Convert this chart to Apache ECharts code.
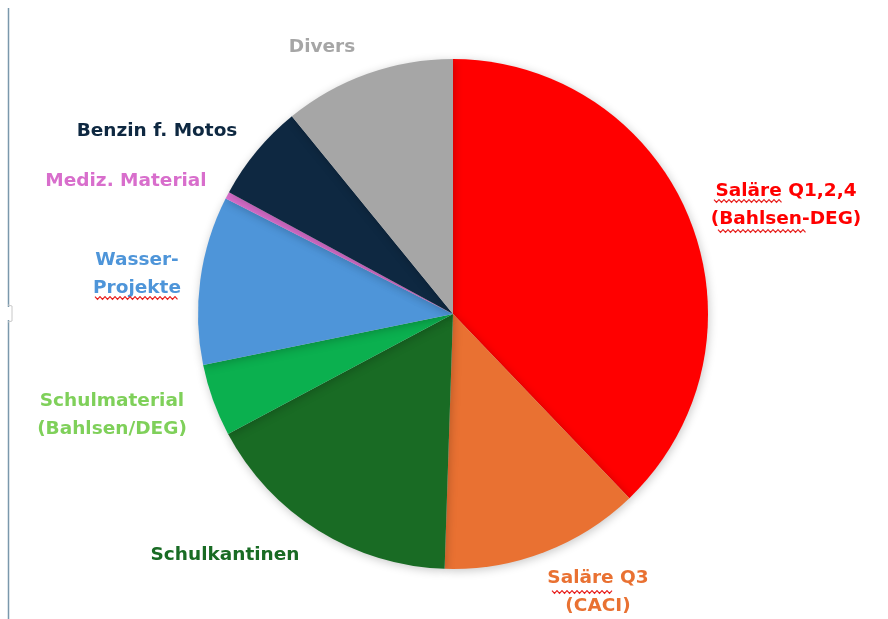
<!DOCTYPE html>
<html>
<head>
<meta charset="utf-8">
<script src="https://cdn.jsdelivr.net/npm/echarts@6/dist/echarts.min.js"></script>
<style>
  html, body { margin: 0; padding: 0; background: #fff; }
  #pieChart { width: 888px; height: 619px; }
</style>
</head>
<body>
<div id="pieChart"></div>
<script>
  // Anteile in Prozent, aus der Grafik geschaetzt
  var categories = [
    'Saläre Q1,2,4\n(Bahlsen-DEG)',
    'Saläre Q3\n(CACI)',
    'Schulkantinen',
    'Schulmaterial\n(Bahlsen/DEG)',
    'Wasser-\nProjekte',
    'Mediz. Material',
    'Benzin f. Motos',
    'Divers'
  ];
  var values = [37.9, 12.7, 16.7, 4.6, 10.7, 0.45, 6.2, 10.9];

  var sliceColors = ['#FF0000', '#E97132', '#196B24', '#0BB04F', '#4E95D9', '#D86ECC', '#0E2841', '#A6A6A6'];
  var labelColors = ['#FF0000', '#E97132', '#196B24', '#7FD05A', '#4E95D9', '#D86ECC', '#0E2841', '#A6A6A6'];
  var labelPos = [
    [786, 205], [598, 592], [225, 555], [112, 415],
    [137, 274], [126, 181], [157, 131], [322, 47]
  ];

  // rote Rechtschreib-Wellenlinien wie im Original
  function squiggle(x1, x2, y) {
    var pts = [];
    var up = true;
    for (var x = x1; x <= x2; x += 2.5) {
      pts.push([x, up ? y - 1.4 : y + 1.4]);
      up = !up;
    }
    return { type: 'polyline', shape: { points: pts }, style: { stroke: '#E8201E', fill: null, lineWidth: 1.2 }, z: 10 };
  }

  var chart = echarts.init(document.getElementById('pieChart'));

  var data = [];
  for (var i = 0; i < categories.length; i++) {
    data.push({
      name: categories[i],
      value: values[i],
      itemStyle: { color: sliceColors[i] },
      label: { color: labelColors[i] }
    });
  }

  var option = {
    animation: false,
    graphic: [
      { type: 'line', shape: { x1: 8.5, y1: 8, x2: 8.5, y2: 307 }, style: { stroke: '#7A98AC', lineWidth: 1.5 } },
      { type: 'line', shape: { x1: 8.5, y1: 320, x2: 8.5, y2: 619 }, style: { stroke: '#7A98AC', lineWidth: 1.5 } },
      { type: 'polyline', shape: { points: [[8, 305], [12, 306], [12, 321], [8, 322]] }, style: { stroke: '#C8C8C8', fill: null, lineWidth: 1 } },
      squiggle(714, 782, 201),
      squiggle(718, 806, 231),
      squiggle(552, 614, 592),
      squiggle(95, 179, 298)
    ],
    series: [
      {
        type: 'pie',
        center: [453, 314],
        radius: [0, 255],
        startAngle: 90,
        clockwise: true,
        data: data,
        itemStyle: {
          shadowBlur: 10,
          shadowColor: 'rgba(0,0,0,0.22)',
          shadowOffsetX: 1,
          shadowOffsetY: 2
        },
        label: {
          show: true,
          position: 'outside',
          alignTo: 'none',
          overflow: 'none',
          width: 200,
          fontFamily: 'DejaVu Sans',
          fontWeight: 'bold',
          fontSize: 18.5,
          lineHeight: 28,
          align: 'center'
        },
        labelLine: { show: false },
        labelLayout: function (params) {
          var p = labelPos[params.dataIndex];
          return { x: p[0], y: p[1], align: 'center', verticalAlign: 'middle' };
        },
        emphasis: { disabled: true }
      }
    ]
  };

  chart.setOption(option);
</script>
</body>
</html>
